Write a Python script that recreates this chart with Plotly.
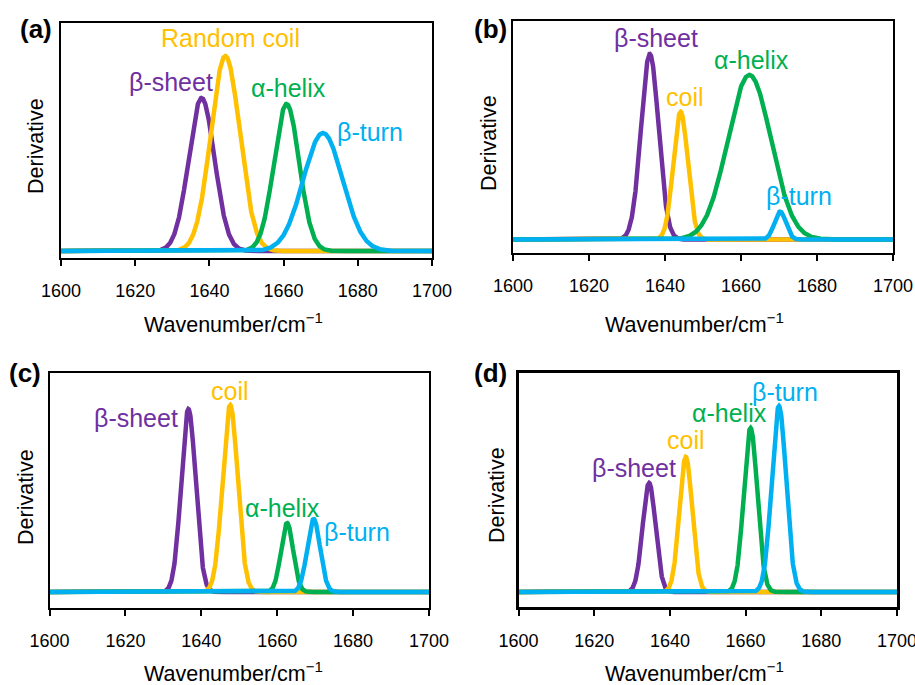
import numpy as np
import plotly.graph_objects as go

W, H = 915, 685

# ---------------- data ----------------
structures = ["β-sheet", "coil", "α-helix", "β-turn"]
colors = ["#7030A0", "#FFC000", "#00B050", "#00B0F0"]
tick_vals = [1600, 1620, 1640, 1660, 1680, 1700]
tick_text = ["1600", "1620", "1640", "1660", "1680", "1700"]

# peak centres (cm-1)
a_centers = [1637.9, 1644.3, 1660.8, 1670.6]
b_centers = [1636.0, 1644.1, 1662.2, 1670.3]
c_centers = [1636.6, 1647.6, 1662.6, 1669.6]
d_centers = [1634.5, 1644.2, 1661.3, 1668.8]
# peak heights (arbitrary derivative units)
a_heights = [153, 195, 147, 118]
b_heights = [186, 128, 165, 28]
c_heights = [183, 187, 69, 73]
d_heights = [109, 135, 164, 186]
# peak widths (sigma, cm-1)
a_widths = [3.5, 3.9, 3.4, 5.3]
b_widths = [2.3, 1.9, 5.7, 1.5]
c_widths = [1.9, 2.0, 1.6, 1.7]
d_widths = [1.7, 1.7, 1.8, 1.9]

a_labels = ["β-sheet", "Random coil", "α-helix", "β-turn"]
b_labels = ["β-sheet", "coil", "α-helix", "β-turn"]
c_labels = ["β-sheet", "coil", "α-helix", "β-turn"]
d_labels = ["β-sheet", "coil", "α-helix", "β-turn"]

# label anchor positions in data units (x = cm-1, y = derivative units)
a_label_x = [1629.6, 1645.6, 1661.4, 1683.4]
a_label_y = [169, 213, 163, 119]
b_label_x = [1637.5, 1645.3, 1662.7, 1675.3]
b_label_y = [202, 143, 180, 44]
c_label_x = [1622.8, 1647.5, 1661.4, 1680.9]
c_label_y = [174, 201, 84, 60]
d_label_x = [1630.5, 1644.2, 1655.7, 1670.3]
d_label_y = [124, 152, 179, 200]

panels = [
    dict(name="(a)", centers=a_centers, heights=a_heights, widths=a_widths,
         labels=a_labels, lx=a_label_x, ly=a_label_y),
    dict(name="(b)", centers=b_centers, heights=b_heights, widths=b_widths,
         labels=b_labels, lx=b_label_x, ly=b_label_y),
    dict(name="(c)", centers=c_centers, heights=c_heights, widths=c_widths,
         labels=c_labels, lx=c_label_x, ly=c_label_y),
    dict(name="(d)", centers=d_centers, heights=d_heights, widths=d_widths,
         labels=d_labels, lx=d_label_x, ly=d_label_y),
]

# ---------------- layout (pixel geometry) ----------------
boxes = [  # left, right, top, bottom(axis) in px ; y-range
    dict(l=61, r=432, t=23, b=258, yr=[-7, 228], lw=2),
    dict(l=513, r=893, t=20.5, b=253, yr=[-13.5, 219.5], lw=2),
    dict(l=49.5, r=429, t=373, b=608, yr=[-16, 219], lw=2),
    dict(l=518.5, r=897, t=372.5, b=607, yr=[-15, 219.5], lw=3),
]
panel_tag_pos = [(36, 29), (491, 29), (25, 373), (491, 373)]
ylab_pos = [(36, 146), (489, 143), (26, 497), (497, 495)]
xlab_pos = [(234, 323), (694, 323), (234, 672), (694, 672)]

FONT = "Liberation Sans, Arial, Helvetica, sans-serif"


def px(x):
    return x / W


def py(y):
    return 1 - y / H


x = np.linspace(1600, 1700, 2001)
fig = go.Figure()
annotations = []
layout = {}

for i, (p, bx) in enumerate(zip(panels, boxes)):
    n = i + 1
    xa = "x" if n == 1 else f"x{n}"
    ya = "y" if n == 1 else f"y{n}"
    for k in range(4):
        c, h, s = p["centers"][k], p["heights"][k], p["widths"][k]
        y = h * np.exp(-((x - c) ** 2) / (2 * s ** 2))
        fig.add_trace(go.Scatter(x=x, y=y, mode="lines",
                                 line=dict(color=colors[k], width=4.5),
                                 xaxis=xa, yaxis=ya, showlegend=False,
                                 hoverinfo="skip"))
        annotations.append(dict(x=p["lx"][k], y=p["ly"][k], xref=xa, yref=ya,
                                text=p["labels"][k], showarrow=False,
                                font=dict(family=FONT, size=25, color=colors[k]),
                                xanchor="center", yanchor="middle"))
    xkey = "xaxis" if n == 1 else f"xaxis{n}"
    ykey = "yaxis" if n == 1 else f"yaxis{n}"
    layout[xkey] = dict(domain=[px(bx["l"]), px(bx["r"])], anchor=ya,
                        range=[1600, 1700], showgrid=False, zeroline=False,
                        automargin=False, ticklabeloverflow="allow",
                        showline=True, linecolor="black", linewidth=bx["lw"],
                        mirror=True, ticks="outside", ticklen=6, tickwidth=1.5,
                        tickcolor="black", tickvals=tick_vals, ticktext=tick_text,
                        ticklabelstandoff=9,
                        tickfont=dict(family=FONT, size=18, color="black"))
    layout[ykey] = dict(domain=[py(bx["b"]), py(bx["t"])], anchor=xa,
                        range=bx["yr"], showgrid=False, zeroline=False,
                        automargin=False,
                        showline=True, linecolor="black", linewidth=bx["lw"],
                        mirror=True, showticklabels=False, ticks="")
    tx, ty = panel_tag_pos[i]
    annotations.append(dict(x=px(tx), y=py(ty), xref="paper", yref="paper",
                            text=f"<b>{p['name']}</b>", showarrow=False,
                            font=dict(family=FONT, size=26, color="black"),
                            xanchor="center", yanchor="middle"))
    lx, ly = ylab_pos[i]
    annotations.append(dict(x=px(lx), y=py(ly), xref="paper", yref="paper",
                            text="Derivative", textangle=-90, showarrow=False,
                            font=dict(family=FONT, size=21.5, color="black"),
                            xanchor="center", yanchor="middle"))
    wx, wy = xlab_pos[i]
    annotations.append(dict(x=px(wx), y=py(wy), xref="paper", yref="paper",
                            text="Wavenumber/cm<sup>−1</sup>", showarrow=False,
                            font=dict(family=FONT, size=21.5, color="black"),
                            xanchor="center", yanchor="middle"))

fig.update_layout(width=W, height=H, margin=dict(l=0, r=0, t=0, b=0),
                  paper_bgcolor="white", plot_bgcolor="white",
                  annotations=annotations, **layout)

fig.write_html("out.html")
